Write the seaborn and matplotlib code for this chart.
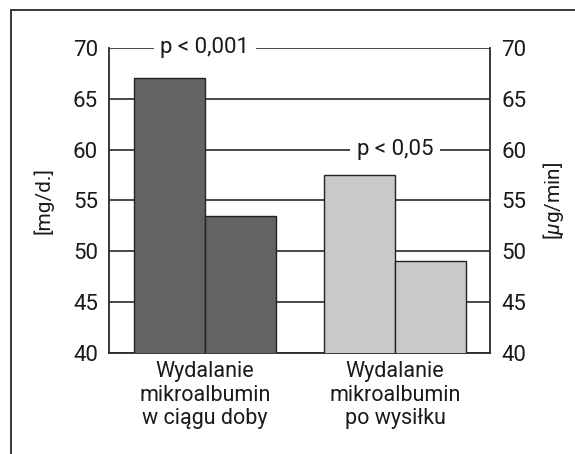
import pandas as pd
import seaborn as sns
import matplotlib.pyplot as plt
from matplotlib.lines import Line2D

groups = ['Wydalanie\nmikroalbumin\nw ciągu doby', 'Wydalanie\nmikroalbumin\npo wysiłku']
units = ['[mg/d.]', '[$\\mu$g/min]']
values_first = [67.0, 57.5]
values_second = [53.5, 49.0]
group_colors = ['#636363', '#c8c9cb']
p_texts = ['p < 0,001', 'p < 0,05']
p_levels = [70, 60]
yticks = [40, 45, 50, 55, 60, 65, 70]

df = pd.DataFrame({
    'group': groups * 2,
    'unit': [units[0]] * 2 + [units[1]] * 2,
    'value': values_first + values_second,
})

sns.set_style('white')
plt.rcParams['font.family'] = ['Roboto', 'DejaVu Sans']
plt.rcParams['mathtext.fontset'] = 'custom'
plt.rcParams['mathtext.it'] = 'Roboto:italic'

fig = plt.figure(figsize=(5.75, 4.54), dpi=100)
ax = fig.add_axes([0.1896, 0.2225, 0.6626, 0.6718])

sns.barplot(data=df, x='group', y='value', hue='unit', width=0.75,
            edgecolor='#222222', linewidth=1.0, legend=False, ax=ax, zorder=3)
# colour by group, not by hue
for i, bar in enumerate(ax.patches):
    bar.set_facecolor(group_colors[i % 2])

ax.set_ylim(40, 70)
ax.set_xlim(-0.505, 1.5)
ax.set_yticks(yticks)
ax.yaxis.grid(True, color='#3a3a3a', linewidth=1.3, zorder=0)
ax.set_axisbelow(True)
ax.tick_params(axis='y', length=0, pad=8, labelsize=16, colors='#1a1a1a')
ax.tick_params(axis='x', length=0, pad=6, labelsize=15.5, colors='#1a1a1a')
for lab in ax.get_xticklabels():
    lab.set_linespacing(1.15)
ax.set_xticks([0.5], minor=True)
ax.tick_params(axis='x', which='minor', direction='in', length=6, width=1.2, color='#2a2a2a')
ax.set_xlabel('')
ax.set_ylabel(units[0], fontsize=15, color='#1a1a1a')
ax.yaxis.set_label_coords(-0.145, 0.5)

for s in ['left', 'bottom']:
    ax.spines[s].set_color('#2a2a2a')
    ax.spines[s].set_linewidth(1.3)
ax.spines['top'].set_visible(False)
ax.spines['right'].set_visible(False)

ax2 = ax.twinx()
ax2.set_ylim(40, 70)
ax2.set_yticks(yticks)
ax2.tick_params(axis='y', length=0, pad=8, labelsize=16, colors='#1a1a1a')
ax2.set_ylabel(units[1], fontsize=15, color='#1a1a1a', rotation=90)
ax2.yaxis.set_label_coords(1.135, 0.5)
ax2.spines['right'].set_color('#2a2a2a')
ax2.spines['right'].set_linewidth(1.3)
for s in ['top', 'left', 'bottom']:
    ax2.spines[s].set_visible(False)

for i, (t, lv) in enumerate(zip(p_texts, p_levels)):
    ax.text(i, lv, t, ha='center', va='center', fontsize=16, color='#1a1a1a', zorder=4,
            bbox=dict(facecolor='white', edgecolor='none', pad=5))

# frame around the figure (top and left only)
fig.add_artist(Line2D([0.019, 1.0], [0.978, 0.978], transform=fig.transFigure, color='#2a2a2a', linewidth=1.3))
fig.add_artist(Line2D([0.019, 0.019], [0.0, 0.978], transform=fig.transFigure, color='#2a2a2a', linewidth=1.3))

plt.savefig('out.png', dpi=100)
